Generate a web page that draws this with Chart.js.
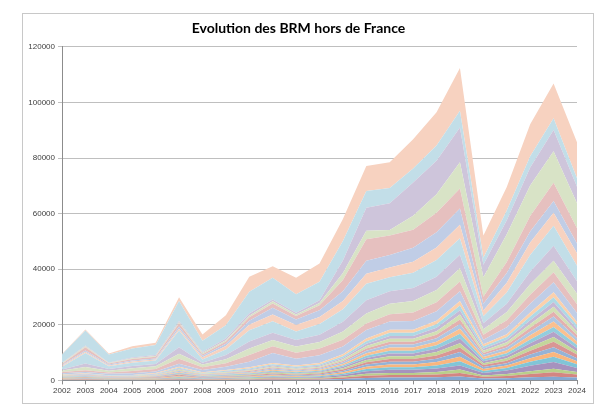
<!DOCTYPE html>
<html>
<head>
<meta charset="utf-8">
<title>Evolution des BRM hors de France</title>
<script src="https://cdn.jsdelivr.net/npm/chart.js@4.4.1/dist/chart.umd.min.js"></script>
<style>
  html, body { margin: 0; padding: 0; background: #fff; }
  canvas { display: block; }
</style>
</head>
<body>
<canvas id="brmChart" width="604" height="405"></canvas>
<script>
// Years on the category axis
const years = ['2002', '2003', '2004', '2005', '2006', '2007', '2008', '2009', '2010', '2011', '2012',
  '2013', '2014', '2015', '2016', '2017', '2018', '2019', '2020', '2021', '2022', '2023', '2024'];

// Y axis ticks
const yTicks = [0, 20000, 40000, 60000, 80000, 100000, 120000];

// Series values, bottom of the stack first (no legend in the source, names unknown)
const s01 = [100, 150, 100, 100, 120, 200, 150, 150, 200, 250, 200, 250, 500, 900, 1000, 1000, 1100, 1400, 700, 800, 1100, 1300, 1000];
const s02 = [150, 200, 100, 100, 150, 300, 150, 200, 250, 400, 300, 350, 500, 800, 900, 900, 1000, 1300, 600, 800, 1200, 1600, 1100];
const s03 = [100, 100, 80, 100, 100, 200, 100, 150, 200, 300, 250, 300, 400, 700, 800, 800, 900, 1200, 500, 700, 1000, 1300, 900];
const s04 = [80, 100, 80, 80, 100, 200, 100, 150, 150, 250, 200, 250, 500, 900, 1100, 1100, 1300, 1500, 900, 1300, 2000, 2400, 1500];
const s05 = [100, 100, 100, 100, 150, 250, 150, 200, 250, 300, 250, 300, 500, 800, 900, 900, 1100, 1500, 700, 900, 1400, 1900, 1300];
const s06 = [150, 150, 100, 100, 150, 300, 150, 200, 250, 350, 300, 350, 500, 800, 1000, 1000, 1200, 1600, 700, 900, 1300, 1700, 1100];
const s07 = [100, 100, 100, 100, 100, 250, 150, 150, 200, 300, 250, 300, 500, 800, 1000, 1000, 1200, 1700, 700, 800, 1300, 1700, 1100];
const s08 = [100, 150, 100, 100, 150, 300, 150, 200, 250, 350, 300, 350, 500, 800, 1000, 1000, 1200, 1600, 700, 900, 1400, 2000, 1300];
const s09 = [100, 150, 100, 100, 150, 250, 150, 200, 250, 350, 300, 350, 500, 800, 1000, 1000, 1200, 1600, 700, 900, 1300, 1700, 1100];
const s10 = [100, 100, 100, 100, 100, 250, 150, 200, 250, 300, 250, 300, 500, 800, 1000, 1000, 1200, 1700, 700, 900, 1400, 1900, 1200];
const s11 = [100, 150, 100, 100, 150, 250, 150, 200, 250, 350, 300, 350, 500, 800, 1000, 1000, 1200, 1700, 700, 900, 1300, 1700, 1100];
const s12 = [150, 150, 100, 100, 150, 300, 200, 200, 250, 350, 300, 350, 500, 900, 1100, 1100, 1300, 1800, 800, 1000, 1500, 2000, 1300];
const s13 = [150, 150, 100, 120, 150, 300, 200, 250, 300, 400, 350, 400, 600, 900, 1100, 1100, 1300, 1700, 800, 1000, 1400, 1800, 1200];
const s14 = [100, 150, 100, 120, 150, 250, 200, 250, 300, 350, 300, 350, 500, 800, 1000, 1000, 1200, 1600, 700, 900, 1300, 1700, 1100];
const s15 = [150, 150, 120, 150, 200, 350, 200, 250, 300, 400, 350, 400, 600, 900, 1100, 1100, 1300, 1800, 800, 1000, 1400, 1800, 1200];
const s16 = [100, 150, 100, 100, 150, 250, 150, 200, 300, 350, 300, 350, 500, 800, 1000, 1000, 1200, 1500, 700, 900, 1300, 1700, 1100];
const s17 = [150, 150, 150, 150, 200, 350, 200, 300, 350, 450, 400, 450, 600, 900, 1100, 1100, 1300, 1700, 800, 1000, 1400, 1700, 1200];
const s18 = [150, 200, 150, 150, 200, 400, 250, 300, 400, 500, 450, 500, 700, 1000, 1100, 1100, 1300, 1700, 800, 1000, 1400, 1800, 1200];
const s19 = [400, 500, 500, 600, 600, 1000, 800, 1200, 2000, 3600, 2400, 2800, 2800, 3000, 3000, 3200, 3400, 3500, 1600, 2500, 3200, 3600, 3200];
const s20 = [500, 600, 500, 800, 900, 1800, 1000, 1200, 2400, 2400, 2200, 2400, 2400, 2400, 2600, 3000, 3200, 3500, 1800, 2500, 3200, 3600, 3200];
const s21 = [500, 1200, 600, 1000, 1000, 1800, 1000, 1500, 2400, 2200, 2200, 2400, 3000, 3600, 3800, 4200, 4400, 4700, 2000, 3000, 3800, 4100, 3800];
const s22 = [400, 1200, 600, 800, 800, 2400, 600, 1500, 2500, 2600, 2400, 2600, 3500, 4700, 4500, 4600, 4800, 4900, 2200, 3000, 4500, 5400, 4500];
const s23 = [1000, 3800, 1000, 1200, 1200, 6000, 1200, 2000, 4000, 4200, 3000, 3800, 4500, 6000, 5000, 5500, 6000, 5900, 2500, 4000, 6000, 7200, 5500];
const s24 = [300, 500, 300, 400, 400, 600, 800, 1200, 2000, 2400, 2400, 2600, 3000, 3600, 3500, 4000, 4500, 4900, 2000, 3500, 4500, 4700, 4500];
const s25 = [300, 400, 300, 400, 400, 800, 500, 800, 1500, 2400, 2000, 2400, 3500, 4600, 4500, 5000, 5500, 5800, 2500, 3500, 4000, 4200, 3500];
const s26 = [400, 1200, 400, 500, 600, 1200, 600, 800, 1200, 1600, 1200, 1800, 4000, 7800, 7000, 6500, 7000, 7200, 2500, 4000, 5500, 6600, 5500];
const s27 = [200, 300, 200, 300, 300, 400, 400, 500, 600, 800, 600, 800, 2500, 3000, 2000, 5000, 6700, 9500, 7000, 10000, 11000, 11300, 9000];
const s28 = [200, 300, 200, 300, 300, 400, 400, 600, 800, 600, 600, 1000, 4500, 8300, 9600, 12000, 12000, 12500, 4500, 5000, 6500, 7700, 6000];
const s29 = [3000, 5400, 2800, 3200, 3600, 7200, 4000, 4800, 7800, 7800, 6600, 6600, 7000, 6000, 5500, 5000, 5500, 6000, 2500, 3500, 4000, 4200, 3000];
const s30 = [200, 400, 400, 800, 800, 1400, 2300, 3600, 5400, 4200, 6000, 6600, 8000, 9000, 9300, 10500, 12000, 15400, 8000, 8500, 11500, 12500, 13000];

const stackSeries = [s01, s02, s03, s04, s05, s06, s07, s08, s09, s10, s11, s12, s13, s14, s15,
  s16, s17, s18, s19, s20, s21, s22, s23, s24, s25, s26, s27, s28, s29, s30];

// Office 2007 palette (blue, red, green, purple, aqua, orange), flattened on white
const strongColors = ['#84A7D1', '#D38582', '#B9CF8B', '#A693BE', '#81C5D7', '#F9B67E'];
const midColors = ['#95B3D7', '#D99694', '#C3D69B', '#B3A2C7', '#93CDDD', '#FAC090'];
const softColors = ['#B0C6E1', '#E3B0AF', '#D2E0B4', '#C6B9D5', '#AED9E5', '#FBD0AC'];
const paleColors = ['#C0CDE6', '#E6C0BF', '#D8E3C6', '#CEC5DB', '#C2DEE8', '#F7D2C0'];

function colorFor(i) {
  const k = i % 6;
  if (i < 6) return strongColors[k];
  if (i < 12) return midColors[k];
  if (i < 18) return softColors[k];
  return paleColors[k];
}

const datasets = stackSeries.map((values, i) => ({
  label: 'Série ' + (i + 1),
  data: values,
  backgroundColor: colorFor(i),
  borderColor: colorFor(i),
  borderWidth: 0,
  pointRadius: 0,
  tension: 0,
  fill: i === 0 ? 'origin' : '-1'
}));

// grey frame round the whole chart, like the spreadsheet chart object
const chartFrame = {
  id: 'chartFrame',
  beforeDraw(chart) {
    const ctx = chart.ctx;
    ctx.save();
    ctx.fillStyle = '#ffffff';
    ctx.fillRect(0, 0, chart.width, chart.height);
    ctx.strokeStyle = '#C8C8C8';
    ctx.lineWidth = 1;
    ctx.strokeRect(22.5, 13.5, 571, 390);
    ctx.restore();
  }
};

const tickFont = { family: 'Liberation Sans', size: 8 };

new Chart(document.getElementById('brmChart').getContext('2d'), {
  type: 'line',
  data: { labels: years, datasets: datasets },
  plugins: [chartFrame],
  options: {
    responsive: false,
    animation: false,
    layout: { padding: { left: 20, right: 27, top: 0, bottom: 7 } },
    plugins: {
      legend: { display: false },
      tooltip: { enabled: false },
      title: {
        display: true,
        text: 'Evolution des BRM hors de France',
        color: '#000000',
        font: { family: 'Lato', size: 14, weight: 'bold' },
        padding: { top: 20, bottom: 10 }
      }
    },
    scales: {
      x: {
        offset: false,
        grid: { drawOnChartArea: false, drawTicks: true, tickLength: 4, color: '#8C8C8C' },
        border: { color: '#8C8C8C' },
        ticks: { font: tickFont, color: '#404040', maxRotation: 0, autoSkip: false, padding: 2 }
      },
      y: {
        stacked: true,
        min: 0,
        max: 120000,
        afterBuildTicks(scale) { scale.ticks = yTicks.map(v => ({ value: v })); },
        afterFit(scale) { scale.width = 42; },
        grid: { color: '#BFBFBF', tickLength: 4 },
        border: { color: '#8C8C8C' },
        ticks: { font: tickFont, color: '#404040', padding: 3, callback: v => String(v) }
      }
    }
  }
});
</script>
</body>
</html>
